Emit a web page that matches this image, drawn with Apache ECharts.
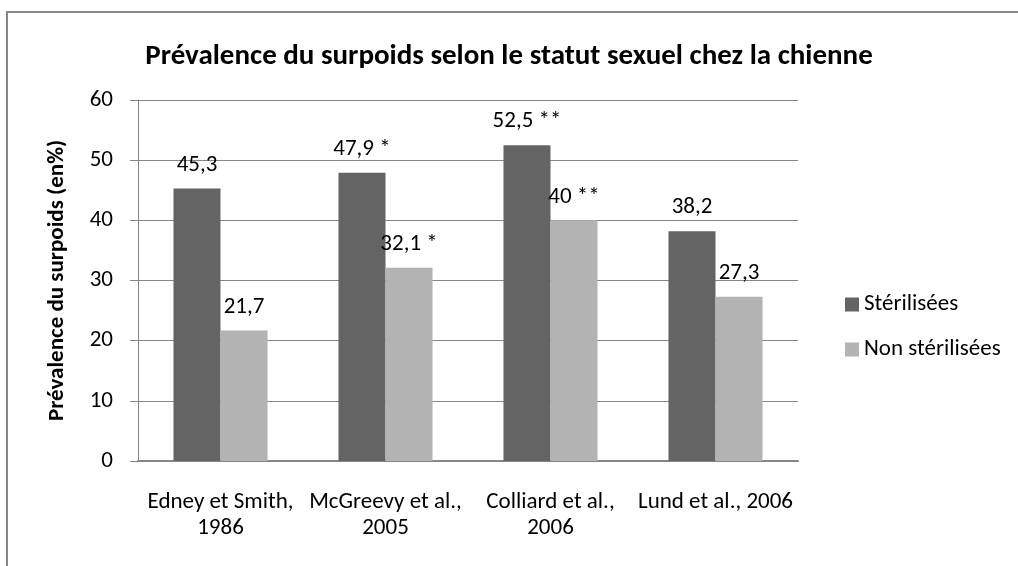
<!DOCTYPE html>
<html>
<head>
<meta charset="utf-8">
<script src="https://cdn.jsdelivr.net/npm/echarts@6/dist/echarts.min.js"></script>
<style>
  html, body { margin: 0; padding: 0; background: #fff; }
  #chart { width: 1018px; height: 566px; }
</style>
</head>
<body>
<div id="chart"></div>
<script>
// etudes (axe des x)
var categories = ['Edney et Smith,\n1986', 'McGreevy et al.,\n2005', 'Colliard et al.,\n2006', 'Lund et al., 2006'];
// prevalence en %
var sterilisees = [45.3, 47.9, 52.5, 38.2];
var nonSterilisees = [21.7, 32.1, 40, 27.3];
// significativite
var etoilesSter = ['', '*', '**', ''];
var etoilesNon = ['', '*', '**', ''];
var yTicks = [0, 10, 20, 30, 40, 50, 60];

var police = 'Carlito, Lato, sans-serif';

function etiquette(etoiles) {
	return function(p) {
		var txt = String(p.value).replace('.', ',');
		if (etoiles[p.dataIndex]) {
			txt += ' ' + etoiles[p.dataIndex];
		}
		return txt;
	};
}

var myChart = echarts.init(document.getElementById('chart'));
var option = {
	animation : false,
	backgroundColor : '#fff',
	textStyle : { fontFamily : police },
	title : {
		text : 'Prévalence du surpoids selon le statut sexuel chez la chienne',
		left : 'center',
		top : 37,
		textStyle : { fontFamily : police, fontSize : 29, fontWeight : 'bold', color : '#000' }
	},
	graphic : [ {
		type : 'rect',
		shape : { x : 7, y : 12, width : 1040, height : 600 },
		style : { fill : 'none', stroke : '#878787', lineWidth : 2 },
		silent : true
	} ],
	legend : {
		orient : 'vertical',
		left : 840,
		top : 288,
		icon : 'rect',
		itemWidth : 14,
		itemHeight : 14,
		itemGap : 22,
		textStyle : { fontFamily : police, fontSize : 23, color : '#000', lineHeight : 23 },
		data : [ 'Stérilisées', 'Non stérilisées' ]
	},
	grid : {
		left : 138,
		right : 220,
		top : 100,
		bottom : 105
	},
	xAxis : {
		type : 'category',
		data : categories,
		axisTick : { show : false },
		axisLine : { lineStyle : { color : '#868686', width : 2 } },
		axisLabel : {
			color : '#000',
			fontFamily : police,
			fontSize : 23,
			lineHeight : 26,
			margin : 28,
			interval : 0
		}
	},
	yAxis : {
		type : 'value',
		min : yTicks[0],
		max : yTicks[yTicks.length - 1],
		interval : 10,
		name : 'Prévalence du surpoids (en%)',
		nameLocation : 'middle',
		nameGap : 69,
		nameTextStyle : { fontFamily : police, fontSize : 23, fontWeight : 'bold', color : '#000' },
		axisLine : { show : true, lineStyle : { color : '#868686', width : 1 } },
		axisTick : { show : true, length : 8, lineStyle : { color : '#868686' } },
		axisLabel : { color : '#000', fontFamily : police, fontSize : 23, margin : 25 },
		splitLine : { lineStyle : { color : '#868686', width : 1 } }
	},
	series : [ {
		name : 'Stérilisées',
		type : 'bar',
		data : sterilisees,
		barGap : '0%',
		barCategoryGap : '43%',
		itemStyle : { color : '#646464' },
		label : {
			show : true,
			position : 'top',
			distance : 12,
			color : '#000',
			fontFamily : police,
			fontSize : 23,
			formatter : etiquette(etoilesSter)
		}
	}, {
		name : 'Non stérilisées',
		type : 'bar',
		data : nonSterilisees,
		barGap : '0%',
		barCategoryGap : '43%',
		itemStyle : { color : '#b3b3b3' },
		label : {
			show : true,
			position : 'top',
			distance : 12,
			color : '#000',
			fontFamily : police,
			fontSize : 23,
			formatter : etiquette(etoilesNon)
		}
	} ]
};
myChart.setOption(option);
</script>
</body>
</html>
